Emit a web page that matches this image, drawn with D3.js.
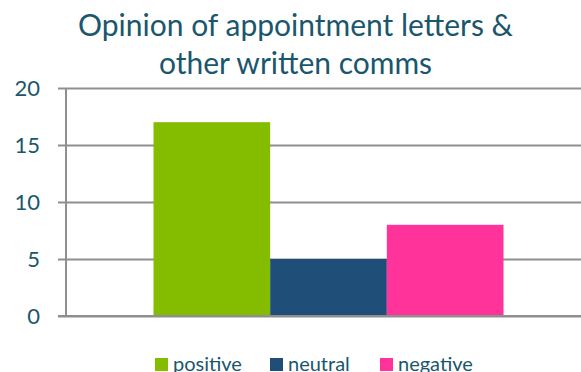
<!DOCTYPE html>
<html>
<head>
<meta charset="utf-8">
<script src="https://cdn.jsdelivr.net/npm/d3@7"></script>
<style>
  html, body { margin: 0; padding: 0; background: #fff; }
  svg { display: block; font-family: Lato, "Open Sans", sans-serif; }
</style>
</head>
<body>
<svg id="chart" width="581" height="372"></svg>
<script>
// Chart data
const titleLines = ["Opinion of appointment letters &", "other written comms"];
const groups = [""];
const series = ["positive", "neutral", "negative"];
const values = [17, 5, 8];
const colors = ["#84BC00", "#1F4E78", "#FF3399"];
const yTicks = [0, 5, 10, 15, 20];

const W = 581, H = 372;
const margin = { left: 66, top: 88, bottom: 316, right: 591 };
const textColor = "#1A566D";
const gridColor = "#8F8F8F";

const svg = d3.select("#chart");

const y = d3.scaleLinear().domain([0, 20]).range([margin.bottom, margin.top]);
const x0 = d3.scaleBand().domain(groups).range([margin.left, margin.right])
  .paddingInner(1 / 3).paddingOuter(1 / 6);
const x1 = d3.scaleBand().domain(series).range([0, x0.bandwidth()]);

// Gridlines and tick labels
const yAxis = d3.axisLeft(y).tickValues(yTicks).tickSize(-(margin.right - margin.left)).tickSizeOuter(0).tickPadding(0);
const gAxis = svg.append("g").attr("transform", `translate(${margin.left},0)`).call(yAxis);
gAxis.select(".domain").remove();
gAxis.selectAll(".tick line")
  .attr("x1", -8)
  .attr("stroke", gridColor).attr("stroke-width", 2);
gAxis.selectAll(".tick text")
  .attr("x", -26).attr("dy", "0.36em")
  .attr("fill", textColor).attr("font-size", 22).attr("text-anchor", "end")
  .style("font-family", "Lato, sans-serif");

// Vertical axis line
svg.append("line")
  .attr("x1", margin.left).attr("x2", margin.left)
  .attr("y1", y(20)).attr("y2", y(0))
  .attr("stroke", gridColor).attr("stroke-width", 2);

// Bars
const g = svg.append("g").selectAll("g").data(groups).join("g")
  .attr("transform", d => `translate(${x0(d)},0)`);
g.selectAll("rect").data(series.map((s, i) => ({ s, v: values[i], c: colors[i] })))
  .join("rect")
  .attr("x", d => x1(d.s))
  .attr("width", x1.bandwidth())
  .attr("y", d => y(d.v))
  .attr("height", d => y(0) - y(d.v))
  .attr("fill", d => d.c);

// Baseline drawn over the bars
svg.append("line")
  .attr("x1", margin.left - 8).attr("x2", margin.right)
  .attr("y1", y(0)).attr("y2", y(0))
  .attr("stroke", gridColor).attr("stroke-width", 2);

// Title
svg.append("g").selectAll("text").data(titleLines).join("text")
  .attr("x", 295.5).attr("y", (d, i) => 36 + i * 38)
  .attr("text-anchor", "middle")
  .attr("fill", textColor).attr("font-size", 30)
  .text(d => d);

// Legend
const legendX = [155, 270, 380];
const lg = svg.append("g").selectAll("g").data(series).join("g")
  .attr("transform", (d, i) => `translate(${legendX[i]},358)`);
lg.append("rect").attr("width", 13).attr("height", 13).attr("fill", (d, i) => colors[i]);
lg.append("text").attr("x", 18).attr("y", 13)
  .attr("fill", textColor).attr("font-size", 20).text(d => d);
</script>
</body>
</html>
